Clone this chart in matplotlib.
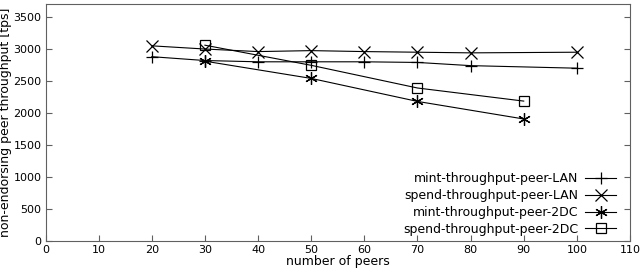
import matplotlib
matplotlib.use("Agg")
import matplotlib.pyplot as plt

peers_lan = [20, 30, 40, 50, 60, 70, 80, 100]
mint_lan = [2880, 2820, 2800, 2800, 2800, 2790, 2740, 2700]
spend_lan = [3050, 3000, 2960, 2975, 2960, 2950, 2940, 2950]

peers_2dc = [30, 50, 70, 90]
mint_2dc = [2810, 2540, 2180, 1905]
spend_2dc = [3060, 2745, 2390, 2185]

series = [
    ("mint-throughput-peer-LAN", peers_lan, mint_lan, "+", 9),
    ("spend-throughput-peer-LAN", peers_lan, spend_lan, "x", 8),
    ("mint-throughput-peer-2DC", peers_2dc, mint_2dc, (6, 2, 0), 9),
    ("spend-throughput-peer-2DC", peers_2dc, spend_2dc, "s", 7.5),
]

plt.rcParams["font.family"] = ["DejaVu Sans"]
fig = plt.figure(figsize=(6.4, 2.75), dpi=100)
ax = fig.add_axes([45.5 / 640, 1 - 240.7 / 275, (630 - 45.5) / 640, (240.7 - 4.3) / 275])

handles = []
for name, xs, ys, m, ms in series:
    h, = ax.plot(xs, ys, color="black", lw=0.8, marker=m, markersize=ms,
                 markerfacecolor="none", markeredgecolor="black", markeredgewidth=0.9,
                 label=name)
    handles.append(h)

ax.set_xlim(0, 110)
ax.set_ylim(0, 3700)
ax.set_xticks(range(0, 111, 10))
ax.set_yticks(range(0, 3501, 500))
for s in ax.spines.values():
    s.set_color("#606060")
ax.tick_params(direction="in", length=4, color="#606060", labelsize=8, pad=3,
               right=True, top=False)
ax.set_xlabel("number of peers", fontsize=9, labelpad=0)
ax.set_ylabel("non-endorsing peer throughput [tps]", fontsize=9, labelpad=1)

leg = ax.legend(handles=handles, loc="lower right", frameon=False, fontsize=9,
                markerfirst=False, handlelength=2.5, handletextpad=0.5,
                labelspacing=0.3, borderaxespad=0.0, bbox_to_anchor=(0.985, 0.0))
for t in leg.get_texts():
    t.set_ha("right")

fig.savefig("out.png", dpi=100)
